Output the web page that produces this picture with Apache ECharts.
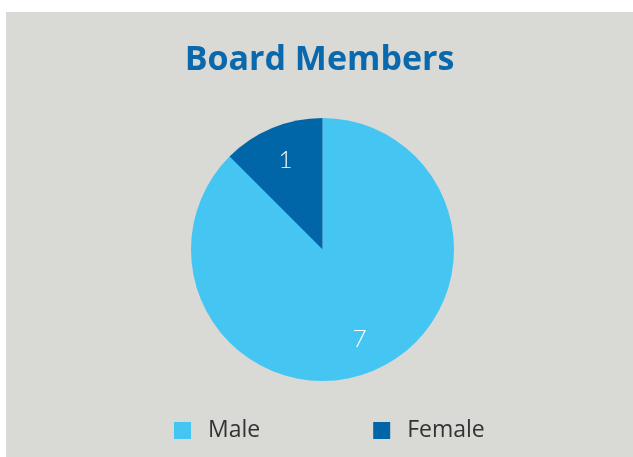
<!DOCTYPE html>
<html>
<head>
<meta charset="utf-8">
<script src="https://cdn.jsdelivr.net/npm/echarts@6/dist/echarts.min.js"></script>
<style>
  html, body { margin: 0; padding: 0; background: #ffffff; }
  #chart { position: absolute; left: 6px; top: 12px; width: 627px; height: 445px; background: #d9d9d5; }
</style>
</head>
<body>
<div id="chart"></div>
<script>
var categories = ['Male', 'Female'];
var counts = [7, 1];
var colors = ['#45c5f2', '#0066a8'];

var pieData = [];
for (var i = 0; i < categories.length; i++) {
	pieData.push({ name: categories[i], value: counts[i], itemStyle: { color: colors[i] } });
}

// second, invisible ring only carries the value labels further out
var labelData = [];
for (var i = 0; i < categories.length; i++) {
	labelData.push({ name: categories[i], value: counts[i], itemStyle: { color: 'rgba(0,0,0,0)' } });
}

var chart = echarts.init(document.getElementById('chart'));
chart.setOption({
	backgroundColor: '#d9d9d5',
	animation: false,
	title: {
		text: 'Board Members',
		left: 'center',
		top: 26,
		textStyle: { fontFamily: 'Open Sans', fontWeight: 'bold', fontSize: 34, color: '#0a68ad' }
	},
	legend: {
		data: categories,
		bottom: 10,
		left: 163,
		icon: 'rect',
		itemWidth: 17,
		itemHeight: 17,
		itemGap: 113,
		selectedMode: false,
		textStyle: { fontFamily: 'Open Sans', fontSize: 23, color: '#333333', padding: [0, 0, 0, 12] }
	},
	series: [{
		type: 'pie',
		center: [316.5, 237.5],
		radius: [0, 131.5],
		startAngle: 90,
		clockwise: true,
		silent: true,
		label: { show: false },
		labelLine: { show: false },
		itemStyle: { borderWidth: 0 },
		data: pieData
	}, {
		type: 'pie',
		center: [316.5, 237.5],
		radius: [0, 188],
		startAngle: 90,
		clockwise: true,
		silent: true,
		label: {
			show: true,
			position: 'inside',
			formatter: '{c}',
			fontFamily: 'Lato',
			fontWeight: 300,
			fontSize: 24,
			color: '#ffffff'
		},
		labelLine: { show: false },
		data: labelData
	}]
});
</script>
</body>
</html>
